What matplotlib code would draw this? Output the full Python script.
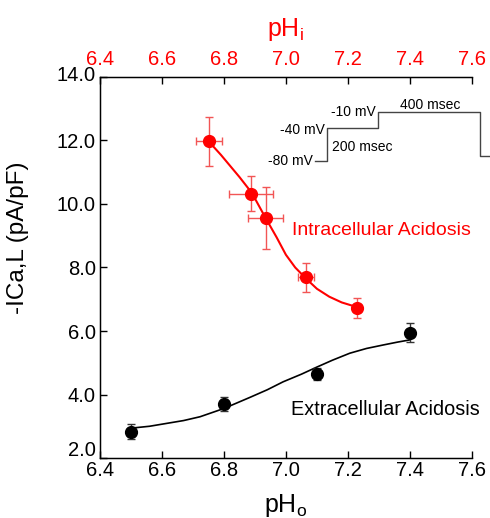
import matplotlib
matplotlib.use("Agg")
import matplotlib.pyplot as plt
import matplotlib.transforms as mtransforms

plt.rcParams['font.family'] = ['Liberation Sans', 'DejaVu Sans']
plt.rcParams['mathtext.fontset'] = 'custom'
plt.rcParams['mathtext.rm'] = 'Liberation Sans'
plt.rcParams['mathtext.it'] = 'Liberation Sans'

# Intracellular acidosis (x = pHi)
intra_ph = [6.753, 6.887, 6.935, 7.065, 7.228]
intra_i = [11.98, 10.33, 9.55, 7.69, 6.73]
intra_yerr = [0.77, 0.54, 0.97, 0.46, 0.32]
intra_xerr = [0.042, 0.071, 0.056, 0.027, 0.0]

# Extracellular acidosis (x = pHo)
extra_ph = [6.5, 6.8, 7.1, 7.4]
extra_i = [2.83, 3.70, 4.65, 5.95]
extra_yerr = [0.24, 0.22, 0.2, 0.3]

# fitted curves
intra_fit_x = [6.75, 6.79, 6.82, 6.85, 6.89, 6.935, 6.97, 7.00, 7.03, 7.065, 7.10, 7.14, 7.18, 7.23]
intra_fit_y = [11.98, 11.55, 11.2, 10.85, 10.35, 9.55, 8.95, 8.4, 8.0, 7.65, 7.33, 7.08, 6.9, 6.75]
extra_fit_x = [6.50, 6.56, 6.615, 6.67, 6.723, 6.80, 6.884, 6.94, 6.991, 7.05, 7.099, 7.15, 7.206, 7.26, 7.314, 7.36, 7.40]
extra_fit_y = [2.94, 3.0, 3.09, 3.18, 3.30, 3.56, 3.91, 4.15, 4.40, 4.64, 4.86, 5.08, 5.30, 5.45, 5.56, 5.65, 5.72]

xticks = [6.4, 6.6, 6.8, 7.0, 7.2, 7.4, 7.6]
yticks = [2.0, 4.0, 6.0, 8.0, 10.0, 12.0, 14.0]

# voltage protocol inset (drawn in data coordinates)
pulse_x = [7.094, 7.131, 7.131, 7.298, 7.298, 7.626, 7.626, 7.658]
pulse_y = [11.36, 11.36, 12.38, 12.38, 12.89, 12.89, 11.52, 11.52]

RED = '#ff0000'

fig = plt.figure(figsize=(4.9, 5.18), dpi=100)
ax = fig.add_axes([0.204, 0.1158, 0.759, 0.7356])
ax.set_xlim(6.4, 7.6)
ax.set_ylim(2.0, 14.0)

ax.plot(intra_fit_x, intra_fit_y, color=RED, lw=1.5, zorder=2)
ax.errorbar(intra_ph, intra_i, yerr=intra_yerr, xerr=intra_xerr, fmt='none',
            ecolor='#f25555', elinewidth=1.0, capsize=3, capthick=1.0, zorder=2)
ax.plot(intra_ph, intra_i, 'o', color=RED, ms=8.5, zorder=3)

ax.plot(extra_fit_x, extra_fit_y, color='black', lw=1.2, zorder=2)
ax.errorbar(extra_ph, extra_i, yerr=extra_yerr, fmt='none',
            ecolor='#333333', elinewidth=1.0, capsize=3, capthick=1.0, zorder=2)
ax.plot(extra_ph, extra_i, 'o', color='black', ms=8.5, zorder=3)

ax.plot(pulse_x, pulse_y, color='#444444', lw=1.0, clip_on=False)
fs_in = 10
ax.text(7.088, 11.36, '-80 mV', ha='right', va='center', fontsize=fs_in)
ax.text(7.125, 12.33, '-40 mV', ha='right', va='center', fontsize=fs_in)
ax.text(7.29, 12.89, '-10 mV', ha='right', va='center', fontsize=fs_in)
ax.text(7.148, 11.78, '200 msec', ha='left', va='center', fontsize=fs_in)
ax.text(7.465, 13.12, '400 msec', ha='center', va='center', fontsize=fs_in)

ax.text(7.019, 9.18, 'Intracellular Acidosis', color=RED, fontsize=14, ha='left', va='center')
ax.text(7.016, 3.54, 'Extracellular Acidosis', color='black', fontsize=14.3, ha='left', va='center')

ax.set_xticks(xticks)
ax.set_xticklabels([f'{v:.1f}' for v in xticks])
ax.set_yticks(yticks)
ax.set_yticklabels([f'{v:.1f}' for v in yticks])
ax.tick_params(direction='in', length=5, width=1, labelsize=14.5, pad=2)
ax.tick_params(axis='y', pad=3)
ax.spines['right'].set_visible(False)
for s in ['left', 'bottom', 'top']:
    ax.spines[s].set_linewidth(1.0)

# nudge the end y labels upward like the reference
ylabels = ax.get_yticklabels()
ylabels[0].set_transform(ylabels[0].get_transform() + mtransforms.ScaledTranslation(0, 10/100, fig.dpi_scale_trans))
ylabels[-1].set_transform(ylabels[-1].get_transform() + mtransforms.ScaledTranslation(0, 3/100, fig.dpi_scale_trans))

ax.set_xlabel(r'pH$_{\mathregular{o}}$', fontsize=18, labelpad=9)
ax.set_ylabel('-ICa,L (pA/pF)', fontsize=17.5)
ax.yaxis.set_label_coords(-0.19, 0.577)

ax2 = ax.twiny()
ax2.set_xlim(6.4, 7.6)
ax2.set_xticks(xticks)
ax2.set_xticklabels([f'{v:.1f}' for v in xticks], color=RED)
ax2.tick_params(direction='in', length=5, width=1, labelsize=14.5, pad=6)
ax2.spines['right'].set_visible(False)
ax2.set_xlabel(r'pH$_{\mathregular{i}}$', fontsize=18, color=RED, labelpad=10)

fig.savefig('out.png', dpi=100)
